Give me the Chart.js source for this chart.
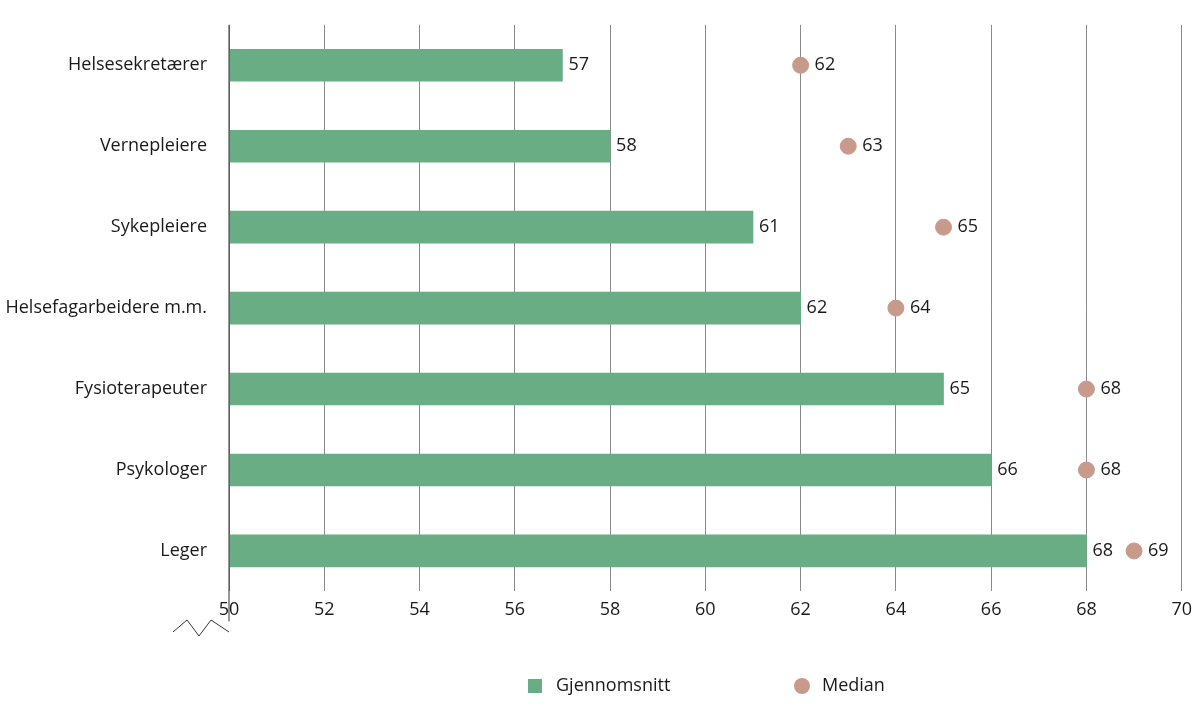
<!DOCTYPE html>
<html>
<head>
<meta charset="utf-8">
<script src="https://cdn.jsdelivr.net/npm/chart.js@4"></script>
<style>
  body { margin: 0; background: #fff; }
  #wrap { width: 1200px; height: 714px; }
</style>
</head>
<body>
<div id="wrap"><canvas id="chart"></canvas></div>
<script>
// Data
const categories = ['Helsesekretærer', 'Vernepleiere', 'Sykepleiere', 'Helsefagarbeidere m.m.', 'Fysioterapeuter', 'Psykologer', 'Leger'];
const meanValues = [57, 58, 61, 62, 65, 66, 68];
const medianValues = [62, 63, 65, 64, 68, 68, 69];
const xTicks = [50, 52, 54, 56, 58, 60, 62, 64, 66, 68, 70];

const green = '#69ad84';
const rose = '#c79a8b';
const fontFamily = '"Open Sans", Lato, sans-serif';

// Value labels next to bars and dots
const valueLabels = {
  id: 'valueLabels',
  afterDatasetsDraw(chart) {
    const ctx = chart.ctx;
    ctx.save();
    ctx.font = '18px ' + fontFamily;
    ctx.fillStyle = '#1a1a1a';
    ctx.textBaseline = 'middle';
    chart.data.datasets.forEach((ds, i) => {
      chart.getDatasetMeta(i).data.forEach((el, j) => {
        const v = i === 0 ? ds.data[j] : ds.data[j].x;
        const off = i === 0 ? 6 : 14;
        ctx.fillText(v, el.x + off, el.y);
      });
    });
    ctx.restore();
  }
};

// Left axis line with a break mark, plus legend
const axisBreak = {
  id: 'axisBreak',
  afterDraw(chart) {
    const { ctx, chartArea } = chart;
    const x = chartArea.left;
    ctx.save();
    ctx.strokeStyle = '#333';
    ctx.lineWidth = 1;
    ctx.beginPath();
    ctx.moveTo(x, chartArea.top);
    ctx.lineTo(x, chartArea.bottom + 30);
    ctx.stroke();
    ctx.beginPath();
    ctx.moveTo(173, 632);
    ctx.lineTo(187, 620);
    ctx.lineTo(199, 636);
    ctx.lineTo(211, 620);
    ctx.lineTo(x, 632);
    ctx.stroke();

    // legend
    ctx.font = '18px ' + fontFamily;
    ctx.fillStyle = '#1a1a1a';
    ctx.textBaseline = 'middle';
    const ly = 686;
    ctx.fillStyle = green;
    ctx.fillRect(528, ly - 7, 14, 14);
    ctx.fillStyle = rose;
    ctx.beginPath();
    ctx.arc(802, ly, 8, 0, Math.PI * 2);
    ctx.fill();
    ctx.fillStyle = '#1a1a1a';
    ctx.fillText('Gjennomsnitt', 556, ly);
    ctx.fillText('Median', 822, ly);
    ctx.restore();
  }
};

new Chart(document.getElementById('chart'), {
  type: 'bar',
  data: {
    labels: categories,
    datasets: [
      {
        label: 'Gjennomsnitt',
        data: meanValues,
        backgroundColor: green,
        barThickness: 32
      },
      {
        label: 'Median',
        type: 'line',
        data: categories.map((c, i) => ({ x: medianValues[i], y: c })),
        showLine: false,
        pointRadius: 8,
        pointHoverRadius: 8,
        pointBackgroundColor: rose,
        pointBorderColor: rose,
        backgroundColor: rose,
        borderColor: rose
      }
    ]
  },
  options: {
    indexAxis: 'y',
    responsive: true,
    maintainAspectRatio: false,
    animation: false,
    layout: { padding: { top: 14, right: 14, left: 0, bottom: 85 } },
    scales: {
      x: {
        min: 50,
        max: 70,
        afterBuildTicks(axis) { axis.ticks = xTicks.map(v => ({ value: v })); },
        grid: { color: '#8a8a8a', drawTicks: false },
        border: { display: false },
        ticks: { color: '#1a1a1a', font: { size: 18, family: fontFamily }, padding: 8 }
      },
      y: {
        afterFit(axis) { axis.width = 229; },
        grid: { display: false },
        border: { display: false },
        ticks: { color: '#1a1a1a', font: { size: 18, family: fontFamily }, padding: 14 }
      }
    },
    plugins: {
      legend: { display: false },
      tooltip: { enabled: false }
    }
  },
  plugins: [valueLabels, axisBreak]
});
</script>
</body>
</html>
